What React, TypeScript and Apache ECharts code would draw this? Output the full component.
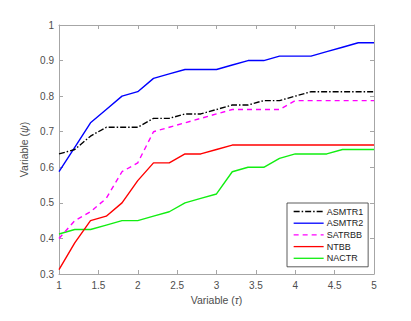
import React, { useEffect, useRef } from "react";
import * as echarts from "echarts";

const xValues = [1, 1.2, 1.4, 1.6, 1.8, 2, 2.2, 2.4, 2.6, 2.8, 3, 3.2, 3.4, 3.6, 3.8, 4, 4.2, 4.4, 4.6, 4.8, 5];
const asmtr1 = [0.6375, 0.65, 0.6875, 0.7125, 0.7125, 0.7125, 0.7375, 0.7375, 0.75, 0.75, 0.7625, 0.775, 0.775, 0.7875, 0.7875, 0.8, 0.8125, 0.8125, 0.8125, 0.8125, 0.8125];
const asmtr2 = [0.5875, 0.6563, 0.725, 0.7625, 0.8, 0.8125, 0.85, 0.8625, 0.875, 0.875, 0.875, 0.8875, 0.9, 0.9, 0.9125, 0.9125, 0.9125, 0.925, 0.9375, 0.95, 0.95];
const satrbb = [0.4, 0.45, 0.475, 0.5125, 0.5875, 0.6125, 0.7, 0.7125, 0.725, 0.7375, 0.75, 0.7625, 0.7625, 0.7625, 0.7625, 0.7875, 0.7875, 0.7875, 0.7875, 0.7875, 0.7875];
const ntbb = [0.3125, 0.3875, 0.45, 0.4625, 0.5, 0.5625, 0.6125, 0.6125, 0.6375, 0.6375, 0.65, 0.6625, 0.6625, 0.6625, 0.6625, 0.6625, 0.6625, 0.6625, 0.6625, 0.6625, 0.6625];
const nactr = [0.4125, 0.425, 0.425, 0.4375, 0.45, 0.45, 0.4625, 0.475, 0.5, 0.5125, 0.525, 0.5875, 0.6, 0.6, 0.625, 0.6375, 0.6375, 0.6375, 0.65, 0.65, 0.65];

const seriesNames = ["ASMTR1", "ASMTR2", "SATRBB", "NTBB", "NACTR"];
const seriesData = [asmtr1, asmtr2, satrbb, ntbb, nactr];
const seriesColors = ["#000000", "#0000ff", "#ff00ff", "#ff0000", "#11ee11"];
const seriesDash: any[] = [[6, 2, 1.5, 2], "solid", [5, 4], "solid", "solid"];

const FONT = "Liberation Sans, Arial, sans-serif";
const AXIS_GRAY = "#a6a6a6";
const LABEL_GRAY = "#4d4d4d";

export default function App() {
  const ref = useRef<HTMLDivElement>(null);
  useEffect(() => {
    if (!ref.current) return;
    const chart = echarts.init(ref.current, undefined, { renderer: "svg" });
    const axisCommon = {
      axisLine: { show: true, lineStyle: { color: AXIS_GRAY, width: 1 } },
      axisTick: { show: true, inside: true, length: 4, lineStyle: { color: AXIS_GRAY } },
      splitLine: { show: false },
    };
    const nameStyle = {
      color: LABEL_GRAY,
      fontSize: 10.5,
      fontFamily: FONT,
      rich: { i: { fontStyle: "italic", fontSize: 10.5, color: LABEL_GRAY, fontFamily: FONT } },
    };
    chart.setOption({
      animation: false,
      backgroundColor: "#ffffff",
      grid: { left: 59, right: 37, top: 25, bottom: 47, containLabel: false },
      xAxis: [
        {
          type: "value",
          min: 1,
          max: 5,
          interval: 0.5,
          ...axisCommon,
          axisLabel: { color: LABEL_GRAY, fontSize: 10, fontFamily: FONT, margin: 6 },
          name: "Variable ({i|τ})",
          nameLocation: "middle",
          nameGap: 20,
          nameTextStyle: nameStyle,
        },
        {
          type: "value",
          position: "top",
          min: 1,
          max: 5,
          interval: 0.5,
          ...axisCommon,
          axisLabel: { show: false },
        },
      ],
      yAxis: [
        {
          type: "value",
          min: 0.3,
          max: 1,
          interval: 0.1,
          ...axisCommon,
          axisLabel: { color: LABEL_GRAY, fontSize: 10, fontFamily: FONT, margin: 5 },
          name: "Variable ({i|ψ})",
          nameLocation: "middle",
          nameGap: 21,
          nameRotate: 90,
          nameTextStyle: nameStyle,
        },
        {
          type: "value",
          position: "right",
          min: 0.3,
          max: 1,
          interval: 0.1,
          ...axisCommon,
          axisLabel: { show: false },
        },
      ],
      legend: {
        orient: "vertical",
        left: 287,
        top: 203,
        itemWidth: 30,
        itemHeight: 9,
        itemGap: 2.7,
        padding: [4, 5, 4, 6],
        backgroundColor: "#ffffff",
        borderColor: "#333333",
        borderWidth: 0.8,
        borderRadius: 0,
        itemStyle: { opacity: 0 },
        lineStyle: { width: 1.3 },
        textStyle: { color: "#222", fontSize: 9, fontFamily: FONT, padding: [0, 0, 0, -2] },
        data: seriesNames,
      },
      series: seriesNames.map((name, i) => ({
        name,
        type: "line",
        xAxisIndex: 0,
        yAxisIndex: 0,
        data: xValues.map((x, k) => [x, seriesData[i][k]]),
        showSymbol: false,
        symbol: "none",
        lineStyle: { color: seriesColors[i], width: 1.4, type: seriesDash[i] },
        itemStyle: { color: seriesColors[i] },
        z: 10 - i,
      })),
    });
    return () => chart.dispose();
  }, []);
  return <div ref={ref} style={{ position: "fixed", left: 0, top: 0, width: 411, height: 321 }} />;
}
